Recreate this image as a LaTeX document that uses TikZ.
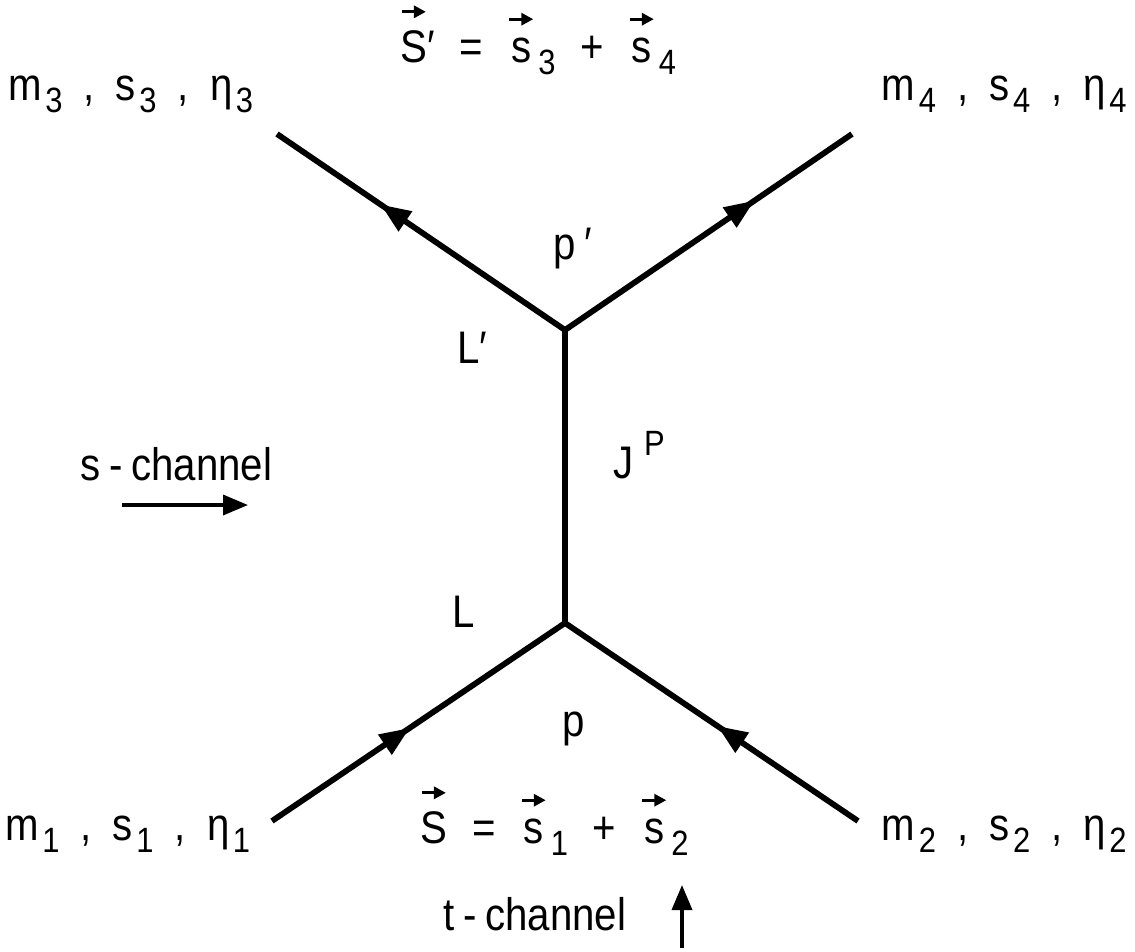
\documentclass[tikz,border=0pt]{standalone}
\usepackage{fontspec}
\setmainfont{Liberation Sans}[FakeStretch=0.88]
\usetikzlibrary{arrows.meta, positioning, decorations.markings}

\newcommand{\lsub}[1]{\kern2pt\raisebox{-7pt}{\fontsize{20}{21}\selectfont #1}}
\newcommand{\vecsym}[1]{\leavevmode\vbox{\offinterlineskip\halign{\hfil##\hfil\cr
  \tikz\draw[line width=1.8pt,-{Triangle[length=2.4mm,width=2.4mm]}] (0pt,0pt) -- (0.48cm,0pt);\cr
  \noalign{\kern7pt}#1\cr}}}
\newcommand{\lsep}{\hspace{12pt},\hspace{12pt}}
\newcommand{\eqgap}{\hspace{14pt}}

\tikzset{
  lbl/.style={font=\fontsize{26}{30}\selectfont, inner sep=0pt},
  leg/.style={line width=3.3pt},
  midarrow/.style={postaction={decorate}, decoration={markings,
      mark=at position #1 with {\arrow{Triangle[length=6mm,width=4.6mm]}}}},
  chan/.style={-{Triangle[length=5mm,width=4mm]}, line width=2pt},
}

\begin{document}
\begin{tikzpicture}[x=0.02cm, y=-0.02cm]
  \useasboundingbox (0,0) rectangle (1135,951);

  % vertices and outer ends of the legs
  \coordinate (vbot) at (565,623);
  \coordinate (vtop) at (565,330);
  \coordinate (e1) at (272,821);
  \coordinate (e2) at (858,821);
  \coordinate (e3) at (277,134);
  \coordinate (e4) at (852,134);

  \draw[leg] (vbot) -- (vtop);
  \draw[leg, midarrow=0.47] (e1) -- (vbot);
  \draw[leg, midarrow=0.48] (e2) -- (vbot);
  \draw[leg, midarrow=0.64] (vtop) -- (e3);
  \draw[leg, midarrow=0.66] (vtop) -- (e4);

  % particle labels
  \node[lbl, anchor=base west] (m3) at (8,100) {m\lsub{3}\lsep s\lsub{3}\lsep η\lsub{3}};
  \node[lbl, anchor=base east] (m4) at (1127,100) {m\lsub{4}\lsep s\lsub{4}\lsep η\lsub{4}};
  \node[lbl, anchor=base west] (m1) at (5,840) {m\lsub{1}\lsep s\lsub{1}\lsep η\lsub{1}};
  \node[lbl, anchor=base east] (m2) at (1127,840) {m\lsub{2}\lsep s\lsub{2}\lsep η\lsub{2}};

  % total spins
  \node[lbl, anchor=base west] (spinout) at (400,62)
    {\vecsym{S}′\eqgap=\eqgap\vecsym{s}\lsub{3}\eqgap+\eqgap\vecsym{s}\lsub{4}};
  \node[lbl, anchor=base west] (spinin) at (420,843)
    {\vecsym{S}\eqgap=\eqgap\vecsym{s}\lsub{1}\eqgap+\eqgap\vecsym{s}\lsub{2}};

  % vertex labels
  \node[lbl, anchor=base west] (pout) at (553,259) {p\kern5pt′};
  \node[lbl, anchor=base west] (Lout) at (457,363) {L′};
  \node[lbl, anchor=base west] (JP) at (613,478) {J\kern6pt\raisebox{13pt}{\fontsize{20}{21}\selectfont P}};
  \node[lbl, anchor=base west] (Lin) at (452,627) {L};
  \node[lbl, anchor=base west] (pin) at (562,736) {p};

  % channels
  \node[lbl, anchor=base west] (schan) at (80,480) {s\hspace{5pt}-\hspace{5pt}channel};
  \coordinate (sa) at (122,505);
  \coordinate (sb) at (248,505);
  \draw[chan] (sa) -- (sb);
  \node[lbl, anchor=base west] (tchan) at (443,930) {t\hspace{5pt}-\hspace{5pt}channel};
  \coordinate (ta) at (682,948);
  \coordinate (tb) at (682,885);
  \draw[chan] (ta) -- (tb);
\end{tikzpicture}
\end{document}
